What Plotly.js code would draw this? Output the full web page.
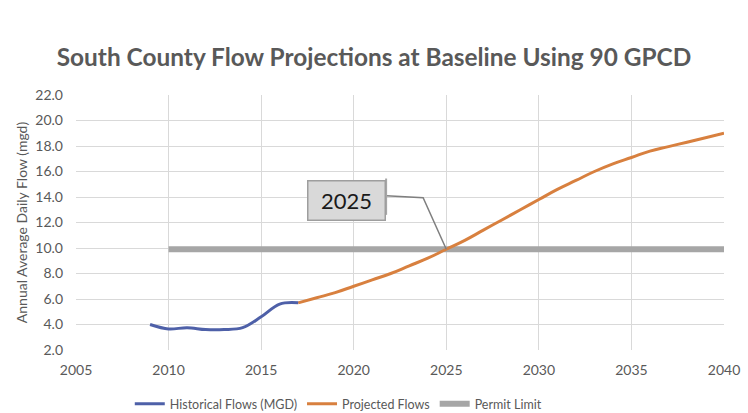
<!DOCTYPE html>
<html><head><meta charset="utf-8">
<script src="https://cdn.plot.ly/plotly-3.0.1.min.js"></script>
<style>html,body{margin:0;padding:0;background:#fff}#c{width:748px;height:413px}</style>
</head><body><div id="c"></div>
<script>
const histYears = [2009, 2010, 2011, 2012, 2013, 2014, 2015, 2016, 2017];
const histFlows = [4.0, 3.65, 3.75, 3.6, 3.6, 3.75, 4.6, 5.6, 5.7];
const projYears = [2017,2018,2019,2020,2021,2022,2023,2024,2025,2026,2027,2028,2029,2030,2031,2032,2033,2034,2035,2036,2037,2038,2039,2040];
const projFlows = [5.7,6.1,6.5,7.0,7.5,8.0,8.6,9.2,9.9,10.6,11.4,12.2,13.0,13.8,14.6,15.3,16.0,16.6,17.1,17.6,17.95,18.3,18.65,19.0];
const permitYears = [2010, 2040];
const permitFlows = [9.9, 9.9];
const calloutText = "2025";
const calloutYear = 2025;
const calloutFlow = 9.9;

const font = "Lato, 'Open Sans', sans-serif";
const traces = [
  {x: permitYears, y: permitFlows, mode:'lines', name:'Permit Limit', line:{color:'#A6A6A6', width:6}, legendrank:3},
  {x: projYears, y: projFlows, mode:'lines', name:'Projected Flows', line:{color:'#D8803F', width:3, shape:'spline', smoothing:1.3}, legendrank:2},
  {x: histYears, y: histFlows, mode:'lines', name:'Historical Flows (MGD)', line:{color:'#4E60A8', width:3, shape:'spline'}, legendrank:1}
];
const layout = {
  width:748, height:413,
  margin:{l:76, r:24, t:95, b:63, autoexpand:false},
  paper_bgcolor:'#fff', plot_bgcolor:'#fff',
  font:{family:font, color:'#595959', size:13},
  title:{text:'South County Flow Projections at Baseline Using 90 GPCD', font:{family:font, size:24.4, color:'#595959', weight:'bold'}, x:0.5, xanchor:'center', y:0.86, yanchor:'middle'},
  xaxis:{range:[2005,2040], dtick:5, tick0:2005, showgrid:true, gridcolor:'#D9D9D9', zeroline:false, showline:false, ticks:'', ticklabelstandoff:10, automargin:false, tickfont:{size:14, color:'#595959'}, fixedrange:true},
  yaxis:{range:[2,22], dtick:2, tickformat:'.1f', showgrid:true, gridcolor:'#D9D9D9', zeroline:false, showline:false, ticks:'', ticklabelstandoff:12, automargin:false, tickfont:{size:14, color:'#595959'},
         title:{text:'Annual Average Daily Flow (mgd)', font:{size:14, color:'#595959'}, standoff:4}},
  showlegend:true,
  legend:{orientation:'h', x:0.083, xanchor:'left', xref:'paper', y:-0.212, yanchor:'middle', font:{size:12.5, color:'#595959'}, traceorder:'normal', itemwidth:30},
  shapes:[
    {type:'path', xref:'x', yref:'y', path:'M 2021.75 14.1 L 2023.75 13.95 L '+calloutYear+' '+calloutFlow, line:{color:'#7F7F7F', width:1.5}},
    {type:'line', xref:'x', yref:'y', x0:2021.75, x1:2021.75, y0:12.6, y1:15.45, line:{color:'#A6A6A6', width:2}}
  ],
  annotations:[
    {x:2019.6, y:13.7, xref:'x', yref:'y', text:calloutText, showarrow:false, font:{size:22, color:'#1a1a1a', family:font},
     bgcolor:'#D9D9D9', bordercolor:'#9E9E9E', borderwidth:1.5, borderpad:5, width:66, height:28}
  ]
};
Plotly.newPlot('c', traces, layout, {displayModeBar:false, staticPlot:true});
</script></body></html>
